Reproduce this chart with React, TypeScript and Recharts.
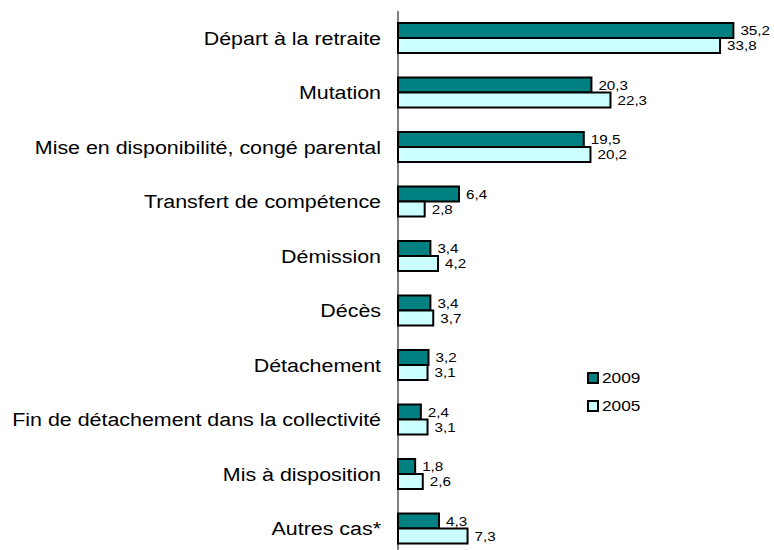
import { BarChart, Bar, XAxis, YAxis, LabelList } from 'recharts'

const categories = [
  'Départ à la retraite',
  'Mutation',
  'Mise en disponibilité, congé parental',
  'Transfert de compétence',
  'Démission',
  'Décès',
  'Détachement',
  'Fin de détachement dans la collectivité',
  'Mis à disposition',
  'Autres cas*',
]
const values2009 = [35.2, 20.3, 19.5, 6.4, 3.4, 3.4, 3.2, 2.4, 1.8, 4.3]
const values2005 = [33.8, 22.3, 20.2, 2.8, 4.2, 3.7, 3.1, 3.1, 2.6, 7.3]
const legendLabels = ['2009', '2005']

const font = '"Liberation Sans", Arial, sans-serif'
const dark = '#008080'
const light = '#CCFFFF'
// the source text is a bit wider than Arial, stretch it horizontally
const stretch = 1.19

const chartData = categories.map((name, i) => ({
  name,
  y2009: values2009[i],
  y2005: values2005[i],
}))

const fmt = (v: any) => String(v).replace('.', ',')

function CategoryTick(props: any) {
  const { x, y, payload } = props
  return (
    <text
      transform={`translate(${x},${y}) scale(${stretch},1)`}
      textAnchor="end"
      dy="0.355em"
      fill="#000"
      fontSize={18}
      fontFamily={font}
    >
      {payload.value}
    </text>
  )
}

function ValueLabel(props: any) {
  const { x, y, width, height, value } = props
  return (
    <text
      transform={`translate(${x + width + 7},${y + height / 2}) scale(${stretch},1)`}
      dy="0.355em"
      fill="#000"
      fontSize={12.8}
      fontFamily={font}
    >
      {fmt(value)}
    </text>
  )
}

function LegendBox() {
  const colors = [dark, light]
  return (
    <div
      style={{
        position: 'absolute',
        left: 587,
        top: 364,
        fontFamily: font,
        fontSize: 14.5,
        color: '#000',
      }}
    >
      {legendLabels.map((label, i) => (
        <div key={label} style={{ display: 'flex', alignItems: 'center', height: 28 }}>
          <span
            style={{
              display: 'inline-block',
              width: 8,
              height: 8,
              background: colors[i],
              border: '2px solid #000',
              marginRight: 3,
            }}
          />
          <span style={{ display: 'inline-block', transform: `scaleX(${stretch})`, transformOrigin: 'left center' }}>
            {label}
          </span>
        </div>
      ))}
    </div>
  )
}

export default function App() {
  return (
    <div
      style={{
        position: 'fixed',
        top: 0,
        left: 0,
        width: 774,
        height: 550,
        overflow: 'hidden',
        background: '#fff',
      }}
    >
      <BarChart
        width={774}
        height={568}
        data={chartData}
        layout="vertical"
        margin={{ top: 11, right: 33, left: 0, bottom: 12 }}
        barSize={15}
        barGap={0}
      >
        <XAxis type="number" domain={[0, 36]} hide />
        <YAxis
          type="category"
          dataKey="name"
          width={398}
          axisLine={{ stroke: '#000', strokeWidth: 1 }}
          tickLine={false}
          tickMargin={11}
          interval={0}
          tick={<CategoryTick />}
        />
        <Bar dataKey="y2009" fill={dark} stroke="#000" strokeWidth={2} isAnimationActive={false}>
          <LabelList dataKey="y2009" content={<ValueLabel />} />
        </Bar>
        <Bar dataKey="y2005" fill={light} stroke="#000" strokeWidth={2} isAnimationActive={false}>
          <LabelList dataKey="y2005" content={<ValueLabel />} />
        </Bar>
      </BarChart>
      <LegendBox />
    </div>
  )
}
